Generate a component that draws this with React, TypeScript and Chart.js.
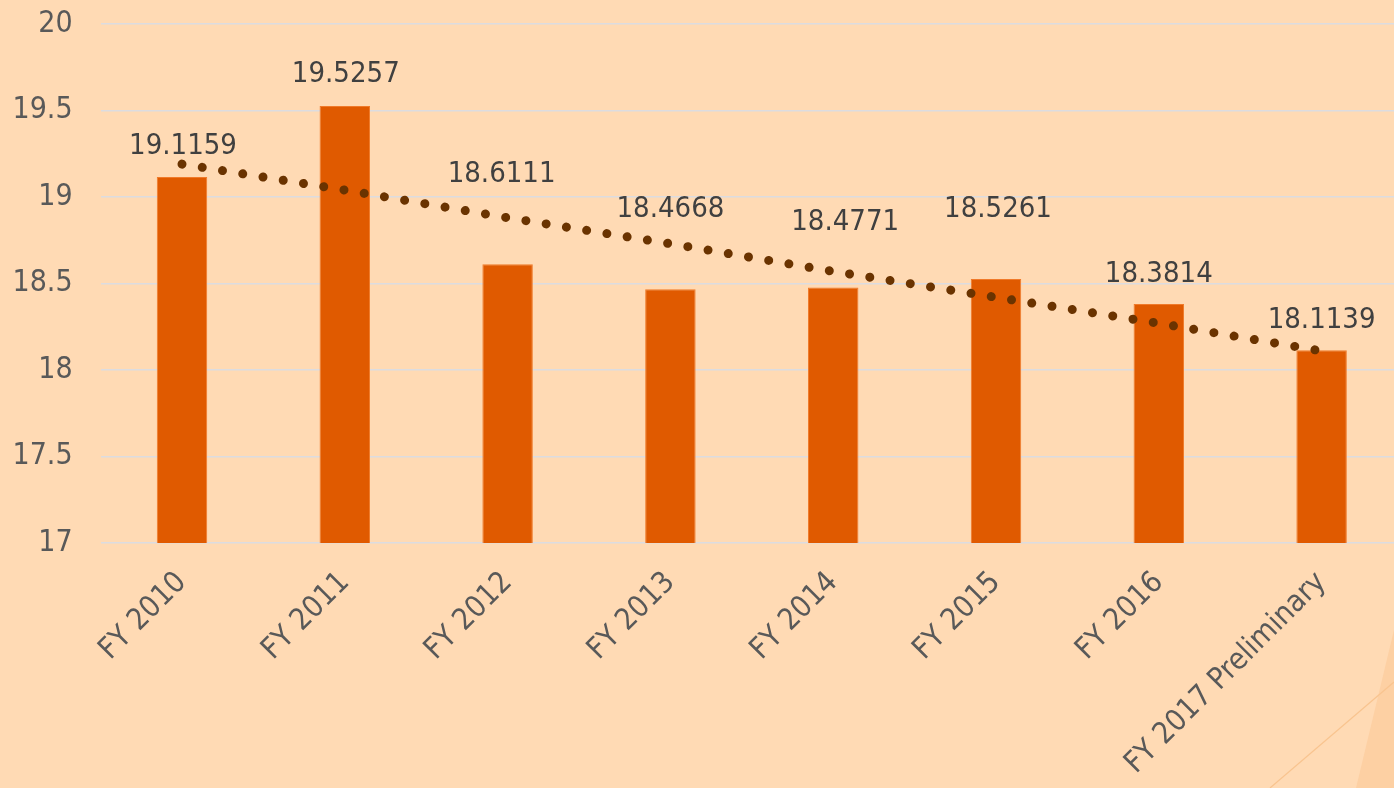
import React, { useEffect, useRef } from "react";
import { Chart, registerables } from "chart.js";

Chart.register(...registerables);

const categories = [
  "FY 2010",
  "FY 2011",
  "FY 2012",
  "FY 2013",
  "FY 2014",
  "FY 2015",
  "FY 2016",
  "FY 2017 Preliminary",
];
const values = [19.1159, 19.5257, 18.6111, 18.4668, 18.4771, 18.5261, 18.3814, 18.1139];
// linear trend line
const trend = [19.19, 19.04, 18.88, 18.73, 18.57, 18.42, 18.27, 18.11];
const yTicks = [17, 17.5, 18, 18.5, 19, 19.5, 20];

// label placement (value level of label centre, horizontal nudge in px)
const labelLevels = [19.29, 19.71, 19.13, 18.93, 18.855, 18.93, 18.555, 18.285];
const labelNudge = [1, 1, -6, 0, 12, 2, 0, 0];

const FONT = "'DejaVu Sans Condensed', 'DejaVu Sans', sans-serif";

const bgPlugin = {
  id: "bgPlugin",
  beforeDraw(chart: any) {
    const { ctx, width, height } = chart;
    ctx.save();
    ctx.fillStyle = "#FFDAB4";
    ctx.fillRect(0, 0, width, height);
    // faint decorative shapes bottom right
    ctx.fillStyle = "#FDD0A3";
    ctx.beginPath();
    ctx.moveTo(1394, 630);
    ctx.lineTo(1394, 788);
    ctx.lineTo(1356, 788);
    ctx.closePath();
    ctx.fill();
    ctx.strokeStyle = "#F9C48F";
    ctx.lineWidth = 1.2;
    ctx.beginPath();
    ctx.moveTo(1270, 788);
    ctx.lineTo(1394, 682);
    ctx.stroke();
    ctx.restore();
  },
};

const labelPlugin = {
  id: "labelPlugin",
  afterDatasetsDraw(chart: any) {
    const { ctx } = chart;
    const meta = chart.getDatasetMeta(0);
    const yScale = chart.scales.y;
    ctx.save();
    ctx.font = `29px ${FONT}`;
    ctx.fillStyle = "#404040";
    ctx.textAlign = "center";
    ctx.textBaseline = "middle";
    meta.data.forEach((bar: any, i: number) => {
      const y = yScale.getPixelForValue(labelLevels[i]);
      ctx.fillText(String(values[i]), bar.x + labelNudge[i], y);
    });
    ctx.restore();
  },
};

export default function App() {
  const ref = useRef<HTMLCanvasElement | null>(null);

  useEffect(() => {
    document.body.style.overflow = "hidden";
    const canvas = ref.current;
    if (!canvas) return;
    const chart = new Chart(canvas, {
      type: "bar",
      data: {
        labels: categories,
        datasets: [
          {
            type: "bar",
            data: values,
            backgroundColor: "#E05A00",
            borderColor: "#F07A2A",
            borderWidth: 1,
            barPercentage: 0.62,
            categoryPercentage: 0.5,
            order: 2,
          } as any,
          {
            type: "line",
            data: trend,
            borderColor: "#6A3300",
            borderWidth: 9,
            borderDash: [0.001, 20.5],
            borderCapStyle: "round",
            pointRadius: 0,
            fill: false,
            tension: 0,
            order: 1,
          } as any,
        ],
      },
      options: {
        animation: false,
        responsive: false,
        maintainAspectRatio: false,
        devicePixelRatio: 1,
        layout: { padding: { top: 24, right: 0, left: 0, bottom: 0 } },
        plugins: {
          legend: { display: false },
          tooltip: { enabled: false },
          title: { display: false },
        },
        scales: {
          x: {
            grid: { display: false },
            border: { display: false },
            ticks: {
              color: "#595959",
              font: { family: FONT, size: 30 },
              maxRotation: 45,
              minRotation: 45,
              padding: 14,
              autoSkip: false,
            },
            afterFit(scale: any) {
              scale.height = 245;
              scale.paddingLeft = 0;
              scale.paddingRight = 0;
              scale.paddingTop = 0;
              scale.paddingBottom = 0;
            },
          },
          y: {
            min: 17,
            max: 20,
            afterBuildTicks(scale: any) {
              scale.ticks = yTicks.map((v) => ({ value: v }));
            },
            grid: { color: "#DCDCE0", lineWidth: 1.5, drawTicks: false },
            border: { display: false },
            ticks: {
              color: "#595959",
              font: { family: FONT, size: 30 },
              padding: 28,
              callback: (v: any) => String(v),
            },
            afterFit(scale: any) {
              scale.width = 100.6;
              scale.paddingTop = 0;
              scale.paddingBottom = 0;
              scale.paddingLeft = 0;
              scale.paddingRight = 0;
            },
          },
        },
      },
      plugins: [bgPlugin, labelPlugin],
    });
    return () => chart.destroy();
  }, []);

  return (
    <div style={{ position: "absolute", left: 0, top: 0, width: 1403, height: 788, overflow: "hidden" }}>
      <canvas ref={ref} width={1403} height={788} style={{ display: "block" }} />
    </div>
  );
}
